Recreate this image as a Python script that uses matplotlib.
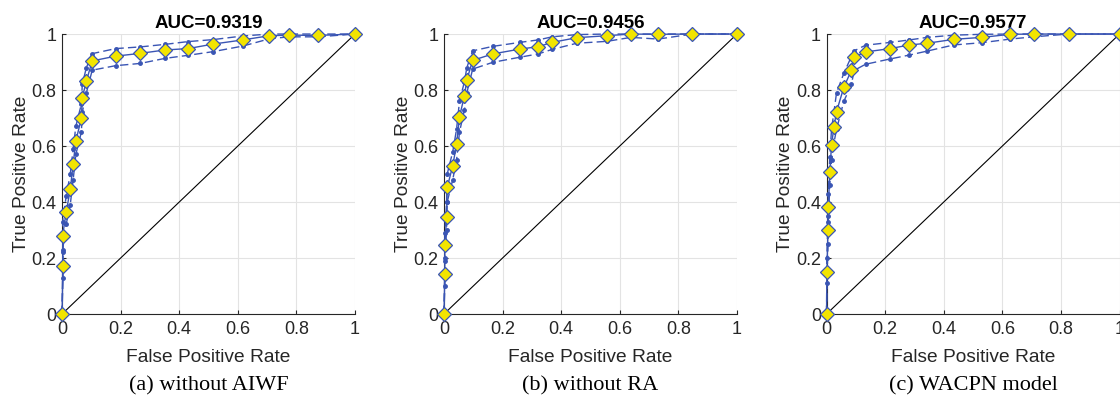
import matplotlib.pyplot as plt

# ROC data: mean curve plus lower / upper bounds
fpr_a = [0, 0.003, 0.002, 0.014, 0.028, 0.038, 0.047, 0.066, 0.069, 0.083, 0.103,
         0.183, 0.267, 0.351, 0.43, 0.515, 0.617, 0.708, 0.774, 0.874, 1.0]
tpr_a = [0, 0.173, 0.28, 0.363, 0.445, 0.536, 0.618, 0.699, 0.773, 0.832, 0.904,
         0.921, 0.931, 0.943, 0.948, 0.964, 0.979, 0.994, 0.996, 0.995, 1.0]
tpr_hi_a = [0, 0.22, 0.33, 0.42, 0.50, 0.59, 0.67, 0.75, 0.82, 0.88, 0.93,
            0.948, 0.954, 0.963, 0.973, 0.98, 0.993, 1.0, 1.0, 1.0, 1.0]
tpr_lo_a = [0, 0.13, 0.23, 0.32, 0.39, 0.48, 0.57, 0.65, 0.72, 0.79, 0.871,
            0.887, 0.895, 0.913, 0.924, 0.937, 0.957, 0.983, 0.99, 0.99, 1.0]

fpr_b = [0, 0.003, 0.003, 0.009, 0.011, 0.03, 0.043, 0.053, 0.07, 0.078, 0.098,
         0.167, 0.258, 0.322, 0.369, 0.453, 0.557, 0.638, 0.731, 0.848, 1.0]
tpr_b = [0, 0.143, 0.246, 0.348, 0.452, 0.53, 0.607, 0.705, 0.78, 0.836, 0.906,
         0.929, 0.946, 0.955, 0.97, 0.987, 0.994, 1.0, 0.999, 1.0, 1.0]
tpr_hi_b = [0, 0.19, 0.29, 0.40, 0.50, 0.58, 0.66, 0.76, 0.83, 0.88, 0.94,
            0.956, 0.97, 0.979, 0.99, 0.998, 1.0, 1.0, 1.0, 1.0, 1.0]
tpr_lo_b = [0, 0.10, 0.20, 0.30, 0.40, 0.48, 0.55, 0.65, 0.73, 0.79, 0.875,
            0.899, 0.917, 0.929, 0.945, 0.967, 0.974, 0.988, 0.982, 1.0, 1.0]

fpr_c = [0, 0.001, 0.005, 0.006, 0.011, 0.017, 0.025, 0.034, 0.059, 0.085, 0.094,
         0.133, 0.217, 0.283, 0.343, 0.434, 0.53, 0.627, 0.707, 0.826, 1.0]
tpr_c = [0, 0.151, 0.30, 0.381, 0.506, 0.604, 0.667, 0.723, 0.81, 0.871, 0.917,
         0.936, 0.948, 0.961, 0.967, 0.981, 0.988, 0.999, 1.0, 1.0, 1.0]
tpr_hi_c = [0, 0.20, 0.35, 0.43, 0.56, 0.66, 0.72, 0.79, 0.86, 0.92, 0.94,
            0.96, 0.97, 0.979, 0.988, 0.996, 0.999, 1.0, 1.0, 1.0, 1.0]
tpr_lo_c = [0, 0.11, 0.25, 0.33, 0.46, 0.55, 0.61, 0.66, 0.76, 0.82, 0.87,
            0.892, 0.911, 0.925, 0.939, 0.961, 0.969, 0.982, 0.99, 1.0, 1.0]

aucs = ["0.9319", "0.9456", "0.9577"]
captions = ["(a) without AIWF", "(b) without RA", "(c) WACPN model"]
ticks = [0, 0.2, 0.4, 0.6, 0.8, 1]
tick_labels = ["0", "0.2", "0.4", "0.6", "0.8", "1"]

panels = [
    (fpr_a, tpr_a, tpr_lo_a, tpr_hi_a),
    (fpr_b, tpr_b, tpr_lo_b, tpr_hi_b),
    (fpr_c, tpr_c, tpr_lo_c, tpr_hi_c),
]

blue = "#3a55b4"
yellow = "#f2e400"
txt = "#262626"

plt.rcParams["font.family"] = ["Liberation Sans", "DejaVu Sans"]

fig = plt.figure(figsize=(11.2, 3.98), dpi=100)
lefts = [0.0554, 0.3964, 0.738]

for i, (fpr, tpr, lo, hi) in enumerate(panels):
    ax = fig.add_axes([lefts[i], 0.211, 0.2616, 0.7035])
    ax.plot([0, 1], [0, 1], color="black", lw=0.8, zorder=2)
    ax.plot(fpr, hi, ls=(0, (6, 3)), color=blue, lw=1.0, marker=".", ms=5, zorder=3)
    ax.plot(fpr, lo, ls=(0, (6, 3)), color=blue, lw=1.0, marker=".", ms=5, zorder=3)
    ax.plot(fpr, tpr, color=blue, lw=1.0, marker="D", ms=7.5,
            mfc=yellow, mec=blue, mew=0.9, zorder=4)

    ax.set_xlim(0, 1)
    ax.set_ylim(0, 1)
    ax.set_xticks(ticks)
    ax.set_yticks(ticks)
    ax.set_xticklabels(tick_labels)
    ax.set_yticklabels(tick_labels)
    ax.grid(True, color="#e3e3e3", lw=0.8)
    ax.set_axisbelow(True)
    for side in ["top", "right"]:
        ax.spines[side].set_visible(False)
    for side in ["left", "bottom"]:
        ax.spines[side].set_color(txt)
        ax.spines[side].set_linewidth(0.8)
    ax.tick_params(direction="in", length=3, width=0.8, colors=txt,
                   labelsize=13, pad=5)
    ax.tick_params(axis="y", pad=4)
    ax.set_xlabel("False Positive Rate", fontsize=13.8, color=txt, labelpad=8)
    ax.set_ylabel("True Positive Rate", fontsize=13.8, color=txt, labelpad=1)
    ax.set_title("AUC=" + aucs[i], fontsize=13.5, fontweight="bold", pad=4)
    for ln in ax.lines:
        ln.set_clip_on(False)

    cx = lefts[i] + 0.2616 / 2
    fig.text(cx, 0.03, captions[i], ha="center", va="center",
             fontsize=16, family="Liberation Serif")

plt.savefig("out.png", dpi=100)
